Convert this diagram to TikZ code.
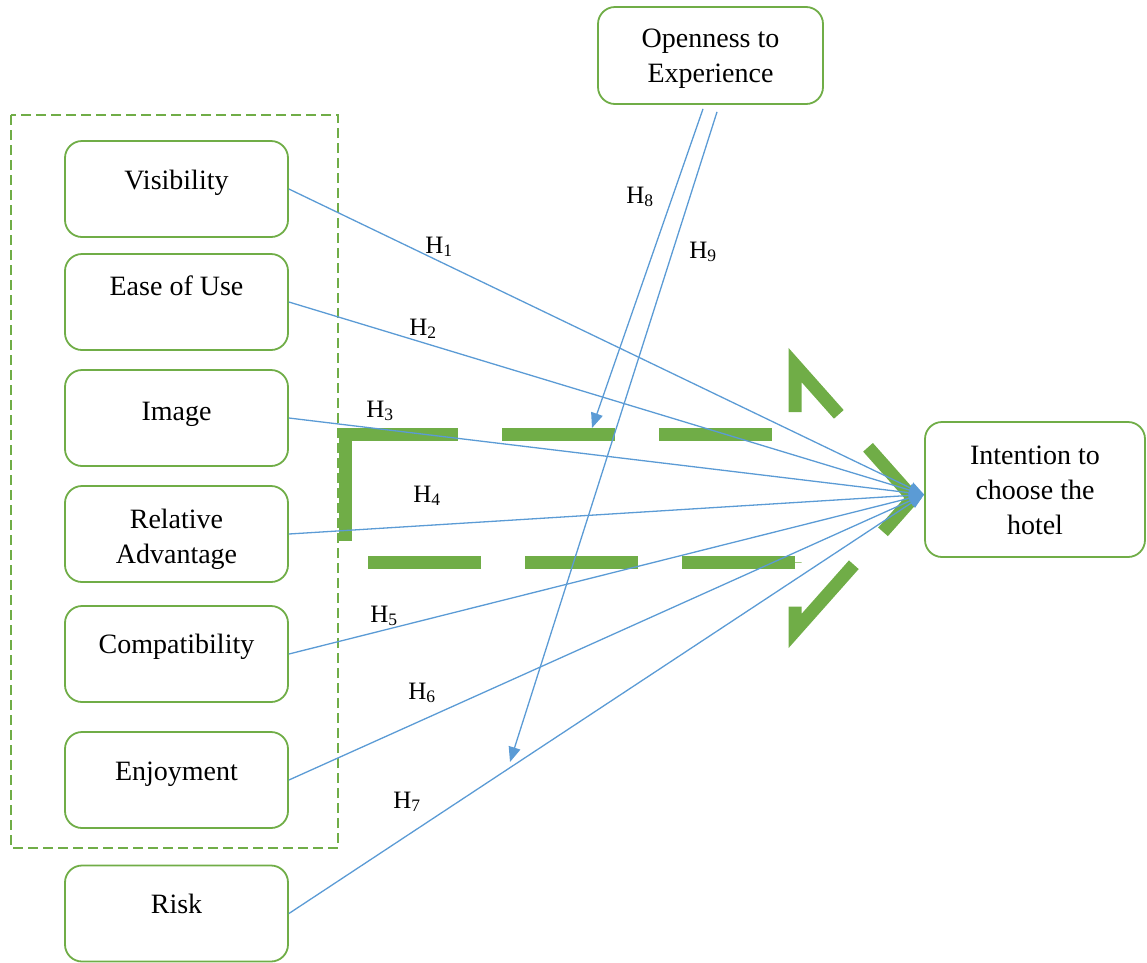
\documentclass[tikz,border=0pt]{standalone}
\usepackage{fontspec}
\setmainfont{Liberation Serif}
\usetikzlibrary{positioning,arrows.meta,calc}
\definecolor{boxgreen}{RGB}{112,173,71}
\definecolor{linkblue}{RGB}{91,155,213}

\begin{document}
\begin{tikzpicture}[x=1pt,y=-1pt,
  factor/.style={draw=boxgreen,line width=1.8pt,rounded corners=17pt,minimum width=223pt,minimum height=96pt,inner sep=0pt},
  txt/.style={font=\fontsize{28}{35}\selectfont,align=center,inner sep=0pt},
  hyp/.style={font=\fontsize{25}{30}\selectfont,inner sep=0pt,anchor=base},
  link/.style={draw=linkblue,line width=1.3pt,-{Triangle[length=15pt,width=12pt]}},
  bigarrow/.style={draw=boxgreen,line width=13pt,dash pattern=on 113pt off 44pt,line join=miter}]
\useasboundingbox (0,0) rectangle (1147,962);
% --- group of innovation attributes ---
\draw[boxgreen,line width=1.3pt,dash pattern=on 10pt off 5pt] (11,115) rectangle (338,848);
\node[factor] (vis) at (176.5,189) {};
\node[factor] (ease) at (176.5,302) {};
\node[factor] (img) at (176.5,418) {};
\node[factor] (rel) at (176.5,534) {};
\node[factor] (comp) at (176.5,654) {};
\node[factor] (enj) at (176.5,780) {};
\node[factor] (risk) at (176.5,913.5) {};
\node[txt,anchor=base] (vis-t) at (176.5,189) {Visibility};
\node[txt,anchor=base] (ease-t) at (176.5,295) {Ease of Use};
\node[txt,anchor=base] (img-t) at (176.5,420) {Image};
\node[txt,anchor=north] (rel-t) at (176.5,508.5) {Relative\\Advantage};
\node[txt,anchor=base] (comp-t) at (176.5,653) {Compatibility};
\node[txt,anchor=base] (enj-t) at (176.5,780) {Enjoyment};
\node[txt,anchor=base] (risk-t) at (176.5,913) {Risk};
% --- moderator and outcome ---
\node[factor,minimum width=225pt,minimum height=97pt] (open) at (710.5,55.5) {};
\node[txt,anchor=north] (open-t) at (710.5,28.5) {Openness to\\Experience};
\node[factor,minimum width=220pt,minimum height=135pt] (int) at (1035,489.5) {};
\node[txt,anchor=north] (int-t) at (1035,445.5) {Intention to\\choose the\\hotel};
% big dashed block arrow behind the links (shaft top, head, shaft bottom + tail)
\draw[bigarrow] (345,434) -- (795,434);
\draw[bigarrow,dash phase=135pt] (795,434) -- (795,365) -- (913,498) -- (795,631) -- (795,562);
\draw[bigarrow] (795,562) -- (345,562) -- (345,427.5);
% --- direct effects H1-H7 ---
\coordinate (tip) at ([yshift=-5pt]int.west);
\draw[link] (vis.east) -- (tip);
\draw[link] (ease.east) -- (tip);
\draw[link] (img.east) -- (tip);
\draw[link] (rel.east) -- (tip);
\draw[link] (comp.east) -- (tip);
\draw[link] (enj.east) -- (tip);
\draw[link] (risk.east) -- (tip);
% --- moderating effects H8, H9 ---
\coordinate (h8end) at (592,428);
\coordinate (h9end) at (510,762);
\draw[link] ([xshift=-7.5pt,yshift=-4pt]open.south) -- (h8end);
\draw[link] ([xshift=6.5pt,yshift=-7pt]open.south) -- (h9end);
% hypothesis labels
\node[hyp] (h1) at (439,253) {H\textsubscript{1}};
\node[hyp] (h2) at (423,335) {H\textsubscript{2}};
\node[hyp] (h3) at (380,417) {H\textsubscript{3}};
\node[hyp] (h4) at (427,502) {H\textsubscript{4}};
\node[hyp] (h5) at (384,622) {H\textsubscript{5}};
\node[hyp] (h6) at (422,699) {H\textsubscript{6}};
\node[hyp] (h7) at (407,808) {H\textsubscript{7}};
\node[hyp] (h8) at (640,203) {H\textsubscript{8}};
\node[hyp] (h9) at (703,258) {H\textsubscript{9}};
\end{tikzpicture}
\end{document}
